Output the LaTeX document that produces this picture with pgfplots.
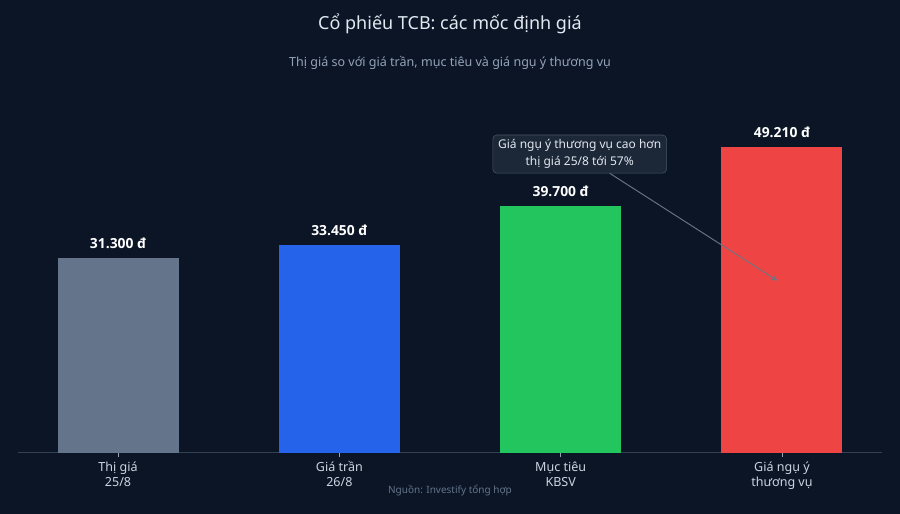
\documentclass[border=0pt]{standalone}
\usepackage{fontspec}
\setmainfont{Noto Sans}
\newfontfamily\lblfont{Open Sans}
\usepackage{pgfplots}
\pgfplotsset{compat=1.18}
\usetikzlibrary{arrows.meta}
\definecolor{bg}{HTML}{0B1526}
\definecolor{cgray}{HTML}{64748B}
\definecolor{cblue}{HTML}{2563EB}
\definecolor{cgreen}{HTML}{22C55E}
\definecolor{cred}{HTML}{EF4444}
\definecolor{titlec}{HTML}{E2E8F0}
\definecolor{subc}{HTML}{94A3B8}
\definecolor{tickc}{HTML}{CBD5E1}
\definecolor{axisc}{HTML}{334155}
\definecolor{boxfill}{HTML}{1E293B}
\definecolor{boxdraw}{HTML}{475569}
\definecolor{arrowc}{HTML}{6B7585}

\begin{document}
\begin{tikzpicture}[x=0.75pt,y=0.75pt]
% background, 900x514 px
\fill[bg] (0,0) rectangle (900,514);

\begin{axis}[
  at={(13.5pt,45.75pt)}, anchor=south west,
  scale only axis, width=648pt, height=279.75pt,
  xmin=-0.452, xmax=3.452, ymin=0, ymax=60000,
  axis y line=none, axis x line*=bottom,
  x axis line style={color=axisc, line width=0.75pt, -},
  ytick=\empty,
  xtick={0,1,2,3},
  xticklabels={{Thị giá\\25/8},{Giá trần\\26/8},{Mục tiêu\\KBSV},{Giá ngụ ý\\thương vụ}},
  xticklabel style={align=center, font=\fontsize{9.4}{11.2}\selectfont, text=tickc},
  tick align=outside, major tick length=3pt,
  xtick style={color=subc, line width=0.6pt},
  ybar, bar width=90.75pt, bar shift=0pt,
  nodes near coords, point meta=explicit symbolic,
  every node near coord/.append style={font=\lblfont\bfseries\fontsize{10.4}{12}\selectfont,
    text=white, anchor=south, inner sep=0pt, yshift=7pt},
  clip=false,
]
\addplot[fill=cgray, draw=none] coordinates {(0,31300) [31.300 đ]};
\addplot[fill=cblue, draw=none] coordinates {(1,33450) [33.450 đ]};
\addplot[fill=cgreen, draw=none] coordinates {(2,39700) [39.700 đ]};
\addplot[fill=cred, draw=none] coordinates {(3,49210) [49.210 đ]};

\node[name=ann, fill=boxfill, fill opacity=0.9, text opacity=1, draw=boxdraw,
  rounded corners=3pt, align=center, inner xsep=4pt, inner ysep=3.5pt,
  text=titlec, font=\fontsize{9}{12.5}\selectfont]
  at (axis cs:2.086,48090) {Giá ngụ ý thương vụ cao hơn\\thị giá 25/8 tới 57\%};
\draw[-{Stealth[length=5pt,width=4pt]}, color=arrowc, line width=0.7pt] (ann) -- (axis cs:2.98,27700);
\end{axis}

\node[text=titlec, font=\fontsize{13.5}{16}\selectfont] at (450,490) {Cổ phiếu TCB: các mốc định giá};
\node[text=subc, font=\fontsize{9.4}{11}\selectfont] at (450,451) {Thị giá so với giá trần, mục tiêu và giá ngụ ý thương vụ};
\node[text=cgray, font=\fontsize{7.5}{9}\selectfont] at (450,24) {Nguồn: Investify tổng hợp};

\pgfresetboundingbox
\useasboundingbox (0,0) rectangle (900,514);
\end{tikzpicture}
\end{document}
